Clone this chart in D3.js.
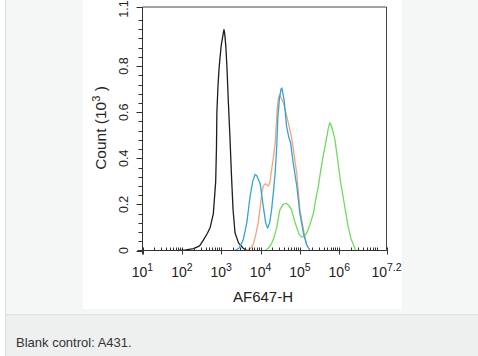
<!DOCTYPE html>
<html><head><meta charset="utf-8">
<script src="https://cdn.jsdelivr.net/npm/d3@7"></script>
<style>html,body{margin:0;padding:0;background:#fff;}svg{display:block;font-family:"Liberation Sans",Arial,sans-serif;}</style>
</head><body>
<script>
// ---- data (x as log10 of AF647-H, y as count in 10^3) ----
const blackLog = [1.9,2.1,2.3,2.45,2.55,2.65,2.72,2.8,2.86,2.88,2.89,2.92,2.95,3.0,3.05,3.07,3.09,3.12,3.15,3.18,3.22,3.26,3.3,3.35,3.44,3.56,3.65];
const blackCnt = [0,0.003,0.008,0.02,0.046,0.075,0.10,0.16,0.30,0.45,0.60,0.72,0.80,0.89,0.94,0.958,0.94,0.88,0.78,0.65,0.50,0.33,0.18,0.077,0.033,0.01,0];
const blueLog = [3.35,3.45,3.56,3.65,3.73,3.8,3.86,3.9,3.99,4.07,4.13,4.18,4.23,4.28,4.33,4.37,4.41,4.44,4.48,4.52,4.54,4.57,4.6,4.66,4.72,4.76,4.83,4.92,5.0,5.09,5.17,5.26];
const blueCnt = [0,0.01,0.046,0.12,0.23,0.30,0.33,0.325,0.29,0.19,0.12,0.097,0.12,0.176,0.26,0.335,0.45,0.58,0.66,0.70,0.705,0.68,0.65,0.54,0.49,0.47,0.38,0.28,0.16,0.075,0.025,0];
const orangeLog = [3.65,3.75,3.82,3.88,3.94,4.0,4.03,4.07,4.12,4.2,4.24,4.28,4.33,4.37,4.4,4.43,4.46,4.48,4.53,4.58,4.64,4.71,4.79,4.84,4.92,5.0,5.09,5.17,5.26];
const orangeCnt = [0,0.01,0.03,0.07,0.12,0.2,0.25,0.28,0.29,0.28,0.30,0.35,0.41,0.465,0.55,0.63,0.665,0.675,0.66,0.64,0.6,0.55,0.49,0.43,0.335,0.176,0.09,0.025,0];
const greenLog = [4.11,4.2,4.28,4.35,4.41,4.49,4.57,4.65,4.72,4.79,4.86,4.92,4.98,5.05,5.11,5.17,5.25,5.34,5.4,5.47,5.53,5.59,5.68,5.72,5.76,5.8,5.85,5.89,5.97,6.03,6.1,6.17,6.23,6.3,6.36,6.42];
const greenCnt = [0,0.01,0.03,0.06,0.10,0.176,0.2,0.205,0.195,0.176,0.13,0.10,0.07,0.058,0.062,0.075,0.11,0.16,0.22,0.28,0.35,0.41,0.49,0.53,0.555,0.54,0.51,0.48,0.38,0.30,0.23,0.16,0.10,0.05,0.025,0];
const xTickExp = ["1","2","3","4","5","6","7.2"];
const yTickVals = [0,0.2,0.4,0.6,0.8,1.1];
const yTickLabels = ["0","0.2","0.4","0.6","0.8","1.1"];
const xTitle = "AF647-H";
const caption = "Blank control: A431.";

const W = 478, H = 356;
const svg = d3.select("body").append("svg").attr("width", W).attr("height", H);

// page backgrounds
svg.append("rect").attr("x",0).attr("y",0).attr("width",W).attr("height",H).attr("fill","#fff");
svg.append("rect").attr("x",5).attr("y",0).attr("width",W-5).attr("height",315).attr("fill","#f5f6f6");
svg.append("rect").attr("x",5).attr("y",315).attr("width",W-5).attr("height",H-315).attr("fill","#eeefef");
svg.append("line").attr("x1",5.5).attr("x2",5.5).attr("y1",0).attr("y2",H).attr("stroke","#dcdddd");
svg.append("line").attr("x1",5).attr("x2",W).attr("y1",314.5).attr("y2",314.5).attr("stroke","#dfe0e0");
svg.append("rect").attr("x",83).attr("y",0).attr("width",319).attr("height",309).attr("fill","#fff");

svg.append("text").attr("x",16).attr("y",346.5).attr("font-size",13).attr("fill","#333")
  .text(caption);

// scales
const L = 142.5, R = 386.5, T = 7, B = 250.5;
const x = d3.scaleLog().domain([10, Math.pow(10,7.2)]).range([L, R]);
const y = d3.scaleLinear().domain([0, 1.0, 1.1]).range([B, 20, T]);

const g = svg.append("g");

// curves
const line = d3.line().x(d => x(Math.pow(10, d[0]))).y(d => y(d[1]));
function draw(xs, ys, color) {
  g.append("path").datum(xs.map((v,i)=>[v, ys[i]]))
    .attr("d", line).attr("fill","none").attr("stroke", color)
    .attr("stroke-width",1.3).attr("stroke-linejoin","round");
}
draw(blackLog, blackCnt, "#1e1e1e");
draw(greenLog, greenCnt, "#6ddc5c");
draw(orangeLog, orangeCnt, "#f2a577");
draw(blueLog, blueCnt, "#35a3d6");

// frame
const ax = "#333";
g.append("line").attr("x1",L).attr("x2",R).attr("y1",T).attr("y2",T).attr("stroke","#444");
g.append("line").attr("x1",R).attr("x2",R).attr("y1",T).attr("y2",B).attr("stroke","#444");
g.append("line").attr("x1",L).attr("x2",L).attr("y1",T).attr("y2",B+4).attr("stroke",ax);
g.append("line").attr("x1",L-5).attr("x2",R).attr("y1",B).attr("y2",B).attr("stroke",ax);

// y ticks
const yMinor = d3.range(0, 26).map(i => i*0.04).filter(v => !yTickVals.some(t => Math.abs(t-v) < 1e-6));
yMinor.forEach(v => {
  g.append("line").attr("x1",L-4).attr("x2",L).attr("y1",Math.round(y(v))+0.5).attr("y2",Math.round(y(v))+0.5).attr("stroke",ax);
});
yTickVals.forEach((v,i) => {
  const yy = Math.round(y(v))+0.5;
  g.append("line").attr("x1",L-6).attr("x2",L).attr("y1",yy).attr("y2",yy).attr("stroke",ax);
  const cy = Math.max(y(v), 9);
  g.append("text").attr("transform",`translate(128,${cy}) rotate(-90)`)
    .attr("text-anchor","middle").attr("font-size",12.5).attr("fill","#222").text(yTickLabels[i]);
});

// x ticks
for (let e = 1; e < 7.2; e++) {
  for (let m = 2; m <= 9; m++) {
    const v = m * Math.pow(10, e);
    if (v > Math.pow(10,7.2)) break;
    const xx = Math.round(x(v))+0.5;
    g.append("line").attr("x1",xx).attr("x2",xx).attr("y1",B-3).attr("y2",B).attr("stroke",ax);
  }
}
xTickExp.forEach(e => {
  const xx = Math.round(x(Math.pow(10, +e)))+0.5;
  g.append("line").attr("x1",xx).attr("x2",xx).attr("y1",B-3).attr("y2",B+4).attr("stroke",ax);
  const t = g.append("text").attr("x", x(Math.pow(10,+e))).attr("y",277)
    .attr("text-anchor","middle").attr("font-size",14).attr("fill","#222");
  t.append("tspan").text("10");
  t.append("tspan").attr("dy",-6).attr("font-size",10.5).text(e);
});

// axis titles
g.append("text").attr("x",263).attr("y",302).attr("text-anchor","middle")
  .attr("font-size",15).attr("fill","#222").text(xTitle);
const yt = g.append("text").attr("transform","translate(106,128) rotate(-90)")
  .attr("text-anchor","middle").attr("font-size",15.5).attr("fill","#222");
yt.append("tspan").text("Count (10");
yt.append("tspan").attr("dy",-6).attr("font-size",11).text("3");
yt.append("tspan").attr("dy",6).text(" )");
</script>
</body></html>
